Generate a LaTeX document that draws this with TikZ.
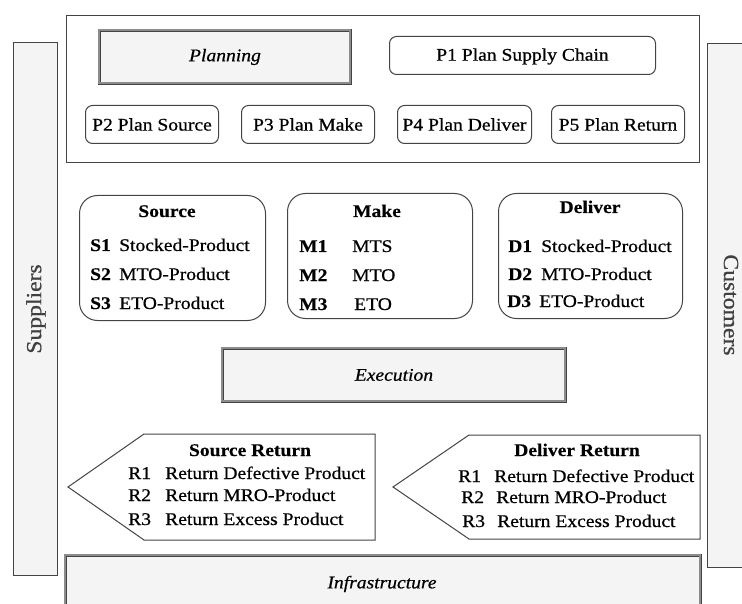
\documentclass[tikz,border=0pt]{standalone}
\usepackage{fontspec}
\setmainfont[FakeStretch=1.1, FakeBold=0.6, BoldFeatures={FakeBold=0.2}]{Liberation Serif}
\definecolor{edge}{HTML}{444444}
\definecolor{lightfill}{HTML}{F4F4F4}
\tikzset{
  box/.style={draw=edge, line width=1pt},
  pbox/.style={draw=edge, line width=1pt, rounded corners=7pt, fill=white},
  groupbox/.style={draw=edge, line width=1pt, rounded corners=18pt, fill=white},
  dbox/.style={draw=edge, line width=0.9pt, double=black!45, double distance=2pt, fill=lightfill},
  side/.style={draw=edge, line width=1pt, fill=lightfill},
  txt/.style={inner sep=0pt, anchor=base west, font=\fontsize{17.8}{20}\selectfont},
  ttl/.style={inner sep=0pt, anchor=base, font=\fontsize{17.8}{20}\selectfont\bfseries},
  lbl/.style={inner sep=0pt, font=\fontsize{17.8}{20}\selectfont},
  sidelbl/.style={inner sep=0pt, text=black!75, font=\fontsize{21.5}{24}\selectfont},
}
\begin{document}
\begin{tikzpicture}[x=1pt,y=-1pt]
\useasboundingbox (0,0) rectangle (742,604);
\clip (0,0) rectangle (742,604);
% side bars
\node[side, minimum width=44pt, minimum height=533pt, anchor=north west] (sup) at (13,42) {};
\node[sidelbl, rotate=90] (suptxt) at (36,309) {Suppliers};
\node[side, minimum width=50pt, minimum height=524pt, anchor=north west] (cus) at (707,43) {};
\node[sidelbl, rotate=-90] (custxt) at (731,305) {Customers};
% planning frame
\node[box, minimum width=633pt, minimum height=147pt, anchor=north west] (plan) at (66,15) {};
\node[dbox, minimum width=251pt, minimum height=53pt, anchor=north west, lbl, font=\fontsize{17.8}{20}\selectfont\itshape] (planning) at (99,30) {Planning};
\node[pbox, lbl, minimum width=266pt, minimum height=38pt, anchor=north west, text depth=2pt] (p1) at (389,36) {P1 Plan Supply Chain};
\node[pbox, lbl, minimum width=133pt, minimum height=38pt, anchor=north west] (p2) at (85,105) {P2 Plan Source};
\node[pbox, lbl, minimum width=133pt, minimum height=38pt, anchor=north west] (p3) at (241,105) {P3 Plan Make};
\node[pbox, lbl, minimum width=134pt, minimum height=38pt, anchor=north west] (p4) at (397,105) {P4 Plan Deliver};
\node[pbox, lbl, minimum width=133pt, minimum height=38pt, anchor=north west] (p5) at (551,105) {P5 Plan Return};
% source / make / deliver
\node[groupbox, minimum width=186pt, minimum height=125pt, anchor=north west] (src) at (79,195) {};
\node[ttl] (srct) at (167,217) {Source};
\node[txt, font=\fontsize{17.8}{20}\selectfont\bfseries] (s1) at (90,251) {S1};
\node[txt] (s1t) at (119,251) {Stocked-Product};
\node[txt, font=\fontsize{17.8}{20}\selectfont\bfseries] (s2) at (90,280) {S2};
\node[txt] (s2t) at (119,280) {MTO-Product};
\node[txt, font=\fontsize{17.8}{20}\selectfont\bfseries] (s3) at (90,309) {S3};
\node[txt] (s3t) at (119,309) {ETO-Product};
\node[groupbox, minimum width=185pt, minimum height=125pt, anchor=north west] (mk) at (287,193) {};
\node[ttl] (mkt) at (377,217) {Make};
\node[txt, font=\fontsize{17.8}{20}\selectfont\bfseries] (m1) at (299,252) {M1};
\node[txt] (m1t) at (352,252) {MTS};
\node[txt, font=\fontsize{17.8}{20}\selectfont\bfseries] (m2) at (299,281) {M2};
\node[txt] (m2t) at (352,281) {MTO};
\node[txt, font=\fontsize{17.8}{20}\selectfont\bfseries] (m3) at (299,310) {M3};
\node[txt] (m3t) at (354,310) {ETO};
\node[groupbox, minimum width=184pt, minimum height=125pt, anchor=north west] (dl) at (498,193) {};
\node[ttl] (dlt) at (590,213) {Deliver};
\node[txt, font=\fontsize{17.8}{20}\selectfont\bfseries] (d1) at (508,252) {D1};
\node[txt] (d1t) at (541,252) {Stocked-Product};
\node[txt, font=\fontsize{17.8}{20}\selectfont\bfseries] (d2) at (508,280) {D2};
\node[txt] (d2t) at (541,280) {MTO-Product};
\node[txt, font=\fontsize{17.8}{20}\selectfont\bfseries] (d3) at (507,307) {D3};
\node[txt] (d3t) at (539,307) {ETO-Product};
% execution
\node[dbox, minimum width=343pt, minimum height=53pt, anchor=north west, lbl, font=\fontsize{17.8}{20}\selectfont\itshape] (exec) at (222,348) {Execution};
% source return
\coordinate (sr1) at (68,487);
\coordinate (sr2) at (144,434);
\coordinate (sr3) at (375,434);
\coordinate (sr4) at (375,540);
\coordinate (sr5) at (144,540);
\draw[box, fill=white] (sr1) -- (sr2) -- (sr3) -- (sr4) -- (sr5) -- cycle;
\node[ttl] (srrt) at (250,456) {Source Return};
\node[txt] (sra) at (128,479) {R1};
\node[txt] (sraT) at (165,479) {Return Defective Product};
\node[txt] (srb) at (128,501) {R2};
\node[txt] (srbT) at (165,501) {Return MRO-Product};
\node[txt] (src3) at (128,525) {R3};
\node[txt] (srcT) at (165,525) {Return Excess Product};
% deliver return
\coordinate (dr1) at (393,487);
\coordinate (dr2) at (469,435);
\coordinate (dr3) at (700,435);
\coordinate (dr4) at (700,539);
\coordinate (dr5) at (469,539);
\draw[box, fill=white] (dr1) -- (dr2) -- (dr3) -- (dr4) -- (dr5) -- cycle;
\node[ttl] (drrt) at (577,456) {Deliver Return};
\node[txt] (dra) at (458,482) {R1};
\node[txt] (draT) at (494,482) {Return Defective Product};
\node[txt] (drb) at (461,503) {R2};
\node[txt] (drbT) at (496,503) {Return MRO-Product};
\node[txt] (drc) at (462,527) {R3};
\node[txt] (drcT) at (497,527) {Return Excess Product};
% infrastructure
\node[dbox, minimum width=635pt, minimum height=70pt, anchor=north west] (infra) at (65,555) {};
\node[lbl, font=\fontsize{17.8}{20}\selectfont\itshape] (infrat) at (382,584) {Infrastructure};
\end{tikzpicture}
\end{document}
